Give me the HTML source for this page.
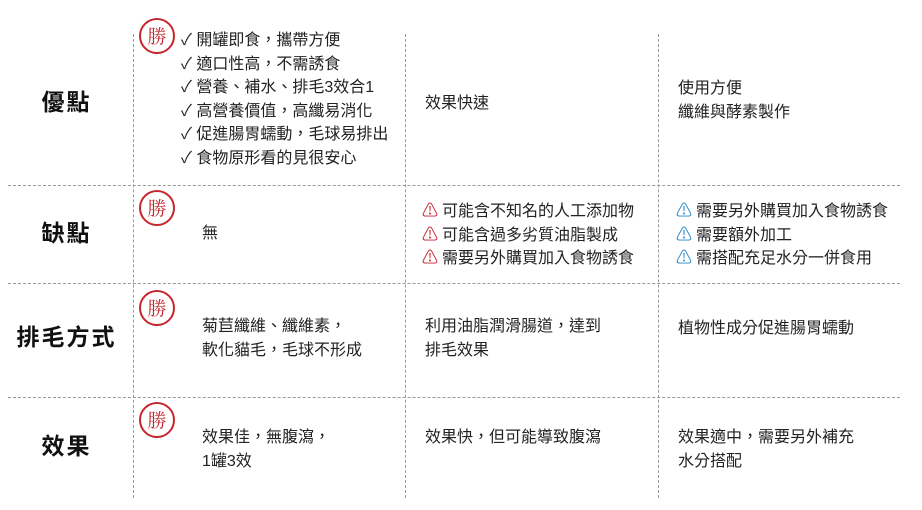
<!DOCTYPE html>
<html><head><meta charset="utf-8"><style>
body{margin:0;width:922px;height:510px;background:#fff;position:relative;overflow:hidden;font-family:"Liberation Sans","Noto Sans CJK TC",sans-serif;color:#222}
.h{position:absolute;left:8px;width:892px;border-top:1.3px dashed #9a9a9a}
.v{position:absolute;top:34px;height:464px;border-left:1.3px dashed #9a9a9a}
.t{position:absolute;font-size:16px;line-height:23.5px;white-space:nowrap}
.l{position:absolute;font-size:23px;font-weight:bold;width:133px;text-align:center;letter-spacing:2px;color:#111}
.s{position:absolute;width:32px;height:32px;border:2px solid #c8262e;border-radius:50%;color:#c8262e;font-size:19px;line-height:32px;text-align:center;font-family:"Noto Serif CJK SC",serif;background:#fff}
.w{font-size:16px;margin-right:4px}
.r{color:#c8262e}.b{color:#2a8ac8}
</style></head><body>
<div class="h" style="top:185px"></div>
<div class="h" style="top:283px"></div>
<div class="h" style="top:397px"></div>
<div class="v" style="left:133px"></div>
<div class="v" style="left:405px"></div>
<div class="v" style="left:658px"></div>

<div class="l" style="top:83px">優點</div>
<div class="l" style="top:214px">缺點</div>
<div class="l" style="top:318px">排毛方式</div>
<div class="l" style="top:427px">效果</div>

<div class="s" style="left:139px;top:18px">勝</div>
<div class="s" style="left:139px;top:190px">勝</div>
<div class="s" style="left:139px;top:290px">勝</div>
<div class="s" style="left:139px;top:402px">勝</div>

<div class="t" style="left:181px;top:29px">✓ 開罐即食，攜帶方便<br>✓ 適口性高，不需誘食<br>✓ 營養、補水、排毛3效合1<br>✓ 高營養價值，高纖易消化<br>✓ 促進腸胃蠕動，毛球易排出<br>✓ 食物原形看的見很安心</div>
<div class="t" style="left:425px;top:92px">效果快速</div>
<div class="t" style="left:678px;top:77px">使用方便<br>纖維與酵素製作</div>

<div class="t" style="left:202px;top:222px">無</div>
<div class="t" style="left:422px;top:200px"><span class="w r">⚠</span>可能含不知名的人工添加物<br><span class="w r">⚠</span>可能含過多劣質油脂製成<br><span class="w r">⚠</span>需要另外購買加入食物誘食</div>
<div class="t" style="left:676px;top:200px"><span class="w b">⚠</span>需要另外購買加入食物誘食<br><span class="w b">⚠</span>需要額外加工<br><span class="w b">⚠</span>需搭配充足水分一併食用</div>

<div class="t" style="left:202px;top:315px">菊苣纖維、纖維素，<br>軟化貓毛，毛球不形成</div>
<div class="t" style="left:425px;top:315px">利用油脂潤滑腸道，達到<br>排毛效果</div>
<div class="t" style="left:678px;top:317px">植物性成分促進腸胃蠕動</div>

<div class="t" style="left:202px;top:426px">效果佳，無腹瀉，<br>1罐3效</div>
<div class="t" style="left:425px;top:426px">效果快，但可能導致腹瀉</div>
<div class="t" style="left:678px;top:426px">效果適中，需要另外補充<br>水分搭配</div>
</body></html>
